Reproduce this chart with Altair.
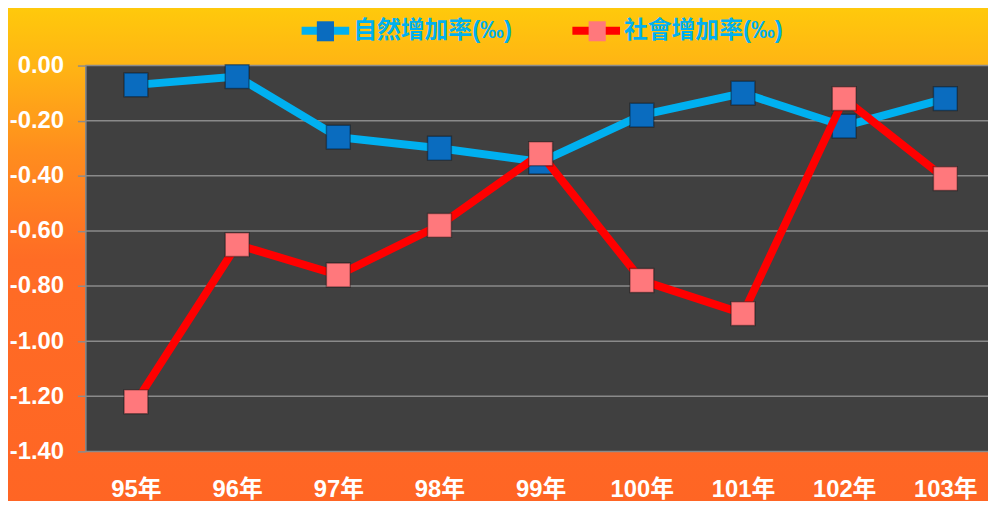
import altair as alt
import pandas as pd

years = ["95年", "96年", "97年", "98年", "99年", "100年", "101年", "102年", "103年"]
natural = [-0.07, -0.04, -0.26, -0.30, -0.35, -0.18, -0.10, -0.22, -0.12]
social = [-1.22, -0.65, -0.76, -0.58, -0.32, -0.78, -0.90, -0.12, -0.41]
series_names = ["自然增加率(‰)", "社會增加率(‰)"]
y_ticks = [0.0, -0.2, -0.4, -0.6, -0.8, -1.0, -1.2, -1.4]

rows = []
for name, vals in zip(series_names, [natural, social]):
    for yr, v in zip(years, vals):
        rows.append({"year": yr, "value": v, "series": name, "series2": name})
df = pd.DataFrame(rows)
grid_df = pd.DataFrame({"value": y_ticks})
bg_df = pd.DataFrame({"k": [0]})

W, H = 910, 389
FONT = "Liberation Sans, Noto Sans CJK TC, Arial"

x_scale = alt.Scale(domain=years, range=[0, 918], padding=0.5)
y_scale = alt.Scale(domain=[-1.4, 0], nice=False, zero=False)

x_axis = alt.Axis(title=None, domain=False, ticks=False, labelAngle=0,
                  labelColor="white", labelFont=FONT, labelFontSize=24,
                  labelFontWeight="bold", labelPadding=26, zindex=1, grid=False)
y_axis = alt.Axis(title=None, values=y_ticks, grid=False,
                  labelExpr="(datum.value < -0.001 ? '-' : '') + format(abs(datum.value), '.2f')",
                  labelColor="white", labelFont=FONT, labelFontSize=24,
                  labelFontWeight="bold", labelPadding=14, tickSize=8,
                  tickColor="#8c8c8c", tickWidth=1.5, domainColor="#8c8c8c",
                  domainWidth=1.5, zindex=1)

x_enc = alt.X("year:N", sort=years, scale=x_scale, axis=x_axis)
y_enc = alt.Y("value:Q", scale=y_scale, axis=y_axis)

gradient = alt.Gradient(
    gradient="linear", x1=0, y1=0, x2=0, y2=1,
    stops=[alt.GradientStop(offset=0, color="#FFCC0A"),
           alt.GradientStop(offset=0.13, color="#FFB414"),
           alt.GradientStop(offset=0.30, color="#FF8D1E"),
           alt.GradientStop(offset=0.51, color="#FF6C25"),
           alt.GradientStop(offset=1, color="#FF6524")])

bg = alt.Chart(bg_df).mark_rect(color=gradient).encode(
    x=alt.value(-90), x2=alt.value(W + 20), y=alt.value(-66), y2=alt.value(H + 58))
plot_bg = alt.Chart(bg_df).mark_rect(color="#404040").encode(
    x=alt.value(0), x2=alt.value(W + 20), y=alt.value(0), y2=alt.value(H))
grid = alt.Chart(grid_df).mark_rule(color="#8a8a8a", strokeWidth=1.5).encode(
    y=y_enc, x=alt.value(0), x2=alt.value(W + 20))

common_leg = dict(title=None, orient="none", legendX=214, legendY=-63,
                  direction="horizontal", symbolSize=2304, symbolStrokeWidth=8,
                  labelFont=FONT, labelFontSize=24, labelFontWeight="bold",
                  labelColor="#00B0F0", labelOffset=0, padding=0, labelLimit=400)
stroke_legend = alt.Legend(symbolType="stroke", zindex=1, columnPadding=45, **common_leg)
fill_legend = alt.Legend(symbolType="M-0.36,-0.42H0.36V0.42H-0.36Z",
                         symbolStrokeColor="transparent", labelExpr="''",
                         columnPadding=218, zindex=2, **common_leg)

stroke_enc = alt.Stroke("series:N",
                        scale=alt.Scale(domain=series_names, range=["#00B0F0", "#FF0000"]),
                        legend=stroke_legend)
fill_enc = alt.Fill("series2:N", sort=series_names,
                    scale=alt.Scale(range=["#0A6CBF", "#FF787C"]),
                    legend=fill_legend)

layers = [bg, plot_bg, grid]
for name in series_names:
    base = alt.Chart(df).transform_filter(alt.datum.series == name)
    layers.append(base.mark_line(strokeWidth=8).encode(x=x_enc, y=y_enc, stroke=stroke_enc))
    layers.append(base.mark_point(shape="square", filled=True, size=576, opacity=1,
                                  stroke="#000000", strokeOpacity=0.35, strokeWidth=1.5)
                  .encode(x=x_enc, y=y_enc, fill=fill_enc))

chart = alt.layer(*layers).properties(
    width=W, height=H,
    autosize=alt.AutoSizeParams(type="none"),
    padding={"left": 78, "top": 56, "right": 0, "bottom": 48},
).configure_view(strokeWidth=0).configure(background="#FF6524")

chart.save("out.html", embed_options={"renderer": "svg", "actions": False})
